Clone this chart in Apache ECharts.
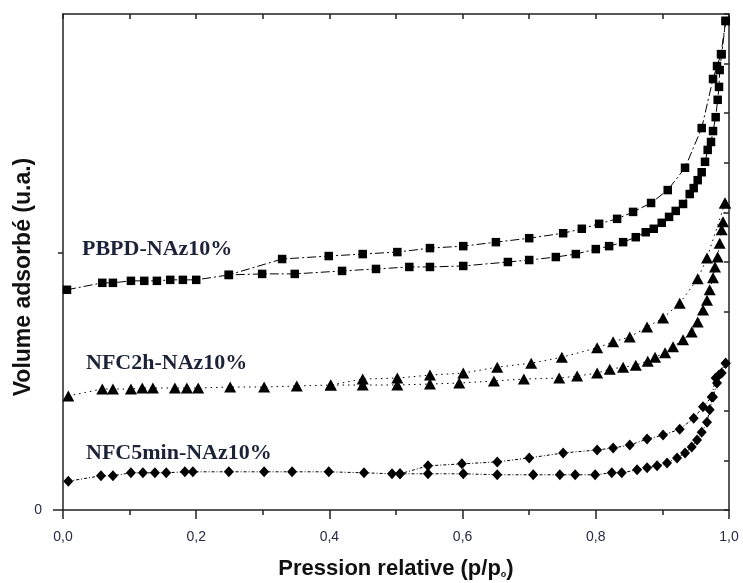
<!DOCTYPE html>
<html>
<head>
<meta charset="utf-8">
<script src="https://cdn.jsdelivr.net/npm/echarts@6/dist/echarts.min.js"></script>
<style>
  html, body { margin: 0; padding: 0; background: #fff; }
  #chart { width: 743px; height: 583px; }
</style>
</head>
<body>
<div id="chart"></div>
<script>
// ---------- data (relative pressure p/p0, adsorbed volume in arbitrary units) ----------
const xTickLabels = ['0,0', '0,2', '0,4', '0,6', '0,8', '1,0'];
const sampleNames = ['PBPD-NAz10%', 'NFC2h-NAz10%', 'NFC5min-NAz10%'];

const pbpdAdsX = [0.006,0.059,0.075,0.102,0.122,0.141,0.161,0.180,0.200,0.249,0.299,0.348,0.419,0.470,0.520,0.551,0.601,0.668,0.700,0.740,0.770,0.800,0.820,0.841,0.860,0.875,0.887,0.899,0.910,0.920,0.931,0.941,0.947,0.953,0.959,0.964,0.968,0.973,0.976,0.980,0.983,0.985,0.986,0.989,0.995];
const pbpdAdsY = [4.44,4.58,4.58,4.62,4.62,4.62,4.64,4.64,4.64,4.74,4.76,4.76,4.82,4.86,4.90,4.90,4.92,5.00,5.04,5.10,5.16,5.26,5.32,5.40,5.50,5.60,5.67,5.79,5.91,6.03,6.17,6.37,6.49,6.65,6.81,7.02,7.26,7.42,7.64,7.92,8.27,8.53,8.87,9.19,9.86];
const pbpdDesX = [0.995,0.988,0.982,0.976,0.959,0.934,0.908,0.883,0.856,0.832,0.805,0.779,0.751,0.700,0.650,0.601,0.551,0.502,0.450,0.399,0.329,0.249];
const pbpdDesY = [9.86,9.19,8.95,8.69,7.70,6.90,6.45,6.19,6.01,5.87,5.77,5.67,5.58,5.48,5.40,5.32,5.28,5.20,5.16,5.12,5.06,4.74];

const nfc2hAdsX = [0.008,0.059,0.075,0.102,0.119,0.135,0.168,0.186,0.203,0.251,0.302,0.351,0.402,0.450,0.502,0.551,0.595,0.647,0.692,0.745,0.772,0.802,0.821,0.841,0.860,0.878,0.889,0.904,0.916,0.931,0.944,0.953,0.961,0.967,0.971,0.976,0.979,0.983,0.986,0.989,0.991,0.994];
const nfc2hAdsY = [2.30,2.44,2.44,2.44,2.46,2.46,2.46,2.46,2.46,2.48,2.48,2.50,2.52,2.52,2.52,2.54,2.56,2.60,2.64,2.66,2.70,2.76,2.84,2.88,2.92,3.00,3.08,3.17,3.29,3.43,3.59,3.79,4.03,4.23,4.44,4.68,4.90,5.10,5.38,5.65,5.81,6.19];
const nfc2hDesX = [0.994,0.967,0.953,0.926,0.901,0.877,0.851,0.826,0.802,0.749,0.703,0.652,0.601,0.551,0.502,0.450,0.402];
const nfc2hDesY = [6.19,5.08,4.66,4.17,3.87,3.69,3.49,3.39,3.27,3.08,2.96,2.88,2.76,2.72,2.66,2.64,2.52];

const nfc5AdsX = [0.008,0.057,0.075,0.102,0.120,0.138,0.155,0.183,0.195,0.249,0.302,0.344,0.399,0.452,0.494,0.506,0.548,0.601,0.652,0.706,0.746,0.769,0.799,0.824,0.839,0.862,0.877,0.892,0.907,0.922,0.934,0.944,0.952,0.959,0.967,0.971,0.976,0.982,0.985,0.989,0.995];
const nfc5AdsY = [0.58,0.69,0.69,0.75,0.75,0.75,0.75,0.77,0.77,0.77,0.77,0.77,0.77,0.75,0.73,0.73,0.73,0.73,0.71,0.71,0.71,0.71,0.71,0.75,0.75,0.81,0.85,0.89,0.95,1.05,1.15,1.27,1.41,1.57,1.77,2.02,2.28,2.56,2.72,2.76,2.96];
const nfc5DesX = [0.995,0.980,0.974,0.961,0.947,0.926,0.901,0.877,0.851,0.826,0.802,0.751,0.700,0.652,0.599,0.548,0.506];
const nfc5DesY = [2.96,2.66,2.28,2.08,1.85,1.63,1.51,1.43,1.31,1.25,1.21,1.15,1.05,0.97,0.93,0.89,0.73];

// ---------- build ----------
function zip(xs, ys) { return xs.map((x, i) => [x, ys[i]]); }

const axisColor = '#222';
const labelColor = '#262a44';
const sans = 'Liberation Sans, Arial, sans-serif';

function mkSeries(name, xs, ys, symbol, size, dash) {
  return {
    name: name, type: 'line', xAxisIndex: 0, yAxisIndex: 0,
    data: zip(xs, ys),
    symbol: symbol, symbolSize: size, showSymbol: true,
    itemStyle: { color: '#000' },
    lineStyle: { color: '#000', width: 1, type: dash },
    emphasis: { disabled: true },
    clip: false, z: 3
  };
}

const chart = echarts.init(document.getElementById('chart'), null, { renderer: 'canvas' });

chart.setOption({
  animation: false,
  backgroundColor: '#fff',
  grid: { left: 63, right: 14, top: 14, bottom: 73, containLabel: false, outerBoundsMode: 'none' },
  xAxis: [
    {
      type: 'value', position: 'bottom', min: 0, max: 1, interval: 0.2,
      axisLine: { show: true, onZero: false, lineStyle: { color: axisColor, width: 1.5 } },
      axisTick: { show: true, inside: false, length: 9, lineStyle: { color: axisColor, width: 1.5 } },
      minorTick: { show: true, splitNumber: 2, length: 5, lineStyle: { color: axisColor, width: 1.5 } },
      splitLine: { show: false },
      axisLabel: {
        margin: 20, color: labelColor, fontSize: 14, fontFamily: sans,
        formatter: function (v) { return xTickLabels[Math.round(v / 0.2)]; }
      },
      name: '{a|Pression relative (p/p}{s|o}{a|)}',
      nameLocation: 'middle', nameGap: 48,
      nameTextStyle: {
        rich: {
          a: { fontSize: 22, fontWeight: 'bold', color: '#111', fontFamily: sans },
          s: { fontSize: 9, fontWeight: 'bold', color: '#111', fontFamily: sans, padding: [12, 0, 0, 0] }
        }
      }
    },
    {
      type: 'value', position: 'top', min: 0, max: 1, interval: 0.1,
      axisLine: { show: true, onZero: false, lineStyle: { color: axisColor, width: 1.5 } },
      axisTick: { show: true, inside: true, length: 5, lineStyle: { color: axisColor, width: 1.5 } },
      axisLabel: { show: false }, splitLine: { show: false }
    }
  ],
  yAxis: [
    {
      type: 'value', position: 'left', min: 0, max: 10,
      axisLine: { show: true, onZero: false, lineStyle: { color: axisColor, width: 1.5 } },
      axisTick: { show: true, inside: false, length: 10, customValues: [0], lineStyle: { color: axisColor, width: 1.5 } },
      axisLabel: { show: true, customValues: [0], margin: 21, color: labelColor, fontSize: 14, fontFamily: sans },
      splitLine: { show: false }
    },
    {
      type: 'value', position: 'right', min: 0, max: 10, interval: 1,
      axisLine: { show: true, onZero: false, lineStyle: { color: axisColor, width: 1.5 } },
      axisTick: { show: true, inside: true, length: 5, lineStyle: { color: axisColor, width: 1.5 } },
      axisLabel: { show: false }, splitLine: { show: false }
    },
    {
      type: 'value', position: 'left', min: 0, max: 10,
      axisLine: { show: false },
      axisTick: { show: true, inside: false, length: 5, customValues: [5.18], lineStyle: { color: axisColor, width: 1.5 } },
      axisLabel: { show: false }, splitLine: { show: false }
    }
  ],
  series: [
    mkSeries('PBPD ads', pbpdAdsX, pbpdAdsY, 'rect', 8.5, [9, 3, 2, 3]),
    mkSeries('PBPD des', pbpdDesX, pbpdDesY, 'rect', 8.5, [9, 3, 2, 3]),
    mkSeries('NFC2h ads', nfc2hAdsX, nfc2hAdsY, 'triangle', [12, 11], [1.5, 4]),
    mkSeries('NFC2h des', nfc2hDesX, nfc2hDesY, 'triangle', [12, 11], [1.5, 4]),
    mkSeries('NFC5min ads', nfc5AdsX, nfc5AdsY, 'diamond', [10, 11], [3, 2, 1, 2]),
    mkSeries('NFC5min des', nfc5DesX, nfc5DesY, 'diamond', [10, 11], [3, 2, 1, 2])
  ],
  graphic: [
    { type: 'text', x: 24, y: 277, rotation: Math.PI / 2, z: 10,
      style: { text: 'Volume adsorbé (u.a.)', fill: '#111', font: 'bold 23px "Liberation Sans", Arial, sans-serif',
               align: 'center', verticalAlign: 'middle' } },
    { type: 'text', left: 82, top: 238, z: 10,
      style: { text: sampleNames[0], fill: '#1c2238', font: 'bold 22px "Liberation Serif", "Times New Roman", serif' } },
    { type: 'text', left: 86, top: 352, z: 10,
      style: { text: sampleNames[1], fill: '#1c2238', font: 'bold 22px "Liberation Serif", "Times New Roman", serif' } },
    { type: 'text', left: 86, top: 442, z: 10,
      style: { text: sampleNames[2], fill: '#1c2238', font: 'bold 22px "Liberation Serif", "Times New Roman", serif' } }
  ]
});
</script>
</body>
</html>
